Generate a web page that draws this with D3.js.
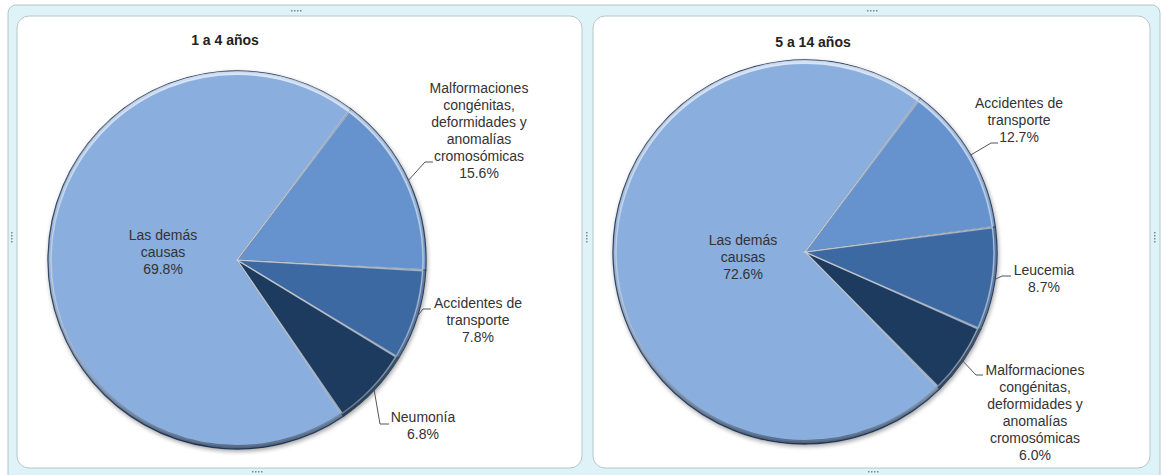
<!DOCTYPE html>
<html>
<head>
<meta charset="utf-8">
<script src="https://cdn.jsdelivr.net/npm/d3@7"></script>
<style>
  body { margin: 0; background: #fff; }
  svg { display: block; font-family: "Liberation Sans", Arial, sans-serif; }
</style>
</head>
<body>
<div id="chart"></div>
<script>
// Data (percent)
const titles = ["1 a 4 años", "5 a 14 años"];
const categories1 = ["Malformaciones congénitas, deformidades y anomalías cromosómicas", "Accidentes de transporte", "Neumonía", "Las demás causas"];
const values1 = [15.6, 7.8, 6.8, 69.8];
const categories2 = ["Accidentes de transporte", "Leucemia", "Malformaciones congénitas, deformidades y anomalías cromosómicas", "Las demás causas"];
const values2 = [12.7, 8.7, 6.0, 72.6];

// how each label wraps
const labelLines = {
    "Malformaciones congénitas, deformidades y anomalías cromosómicas": ["Malformaciones", "congénitas,", "deformidades y", "anomalías", "cromosómicas"],
    "Accidentes de transporte": ["Accidentes de", "transporte"],
    "Neumonía": ["Neumonía"],
    "Leucemia": ["Leucemia"],
    "Las demás causas": ["Las demás", "causas"]
};

// slice colours by position (lightest = the big "rest" slice)
const sliceColors = ["#6693ce", "#3d69a3", "#1f3a5e", "#8aaedd"];

// layout of the two panels (not data)
const panels = [
    { cats: categories1, vals: values1, title: titles[0],
      box: [17, 16, 565, 452], cx: 237, cy: 260, r: 189, start: 37, titleX: 225, titleY: 45,
      labels: [
        { x: 479, y: 93, elbow: [425, 162], end: [433, 162] },
        { x: 478, y: 308, elbow: [423, 309], end: [431, 309] },
        { x: 423, y: 422, elbow: [380, 424], end: [389, 424] },
        { x: 163, y: 240 }
      ] },
    { cats: categories2, vals: values2, title: titles[1],
      box: [593, 16, 557, 452], cx: 805, cy: 252, r: 192, start: 36.8, titleX: 813, titleY: 47,
      labels: [
        { x: 1019, y: 108, elbow: [991, 143], end: [998, 143] },
        { x: 1044, y: 275, elbow: [1002, 276], end: [1011, 276] },
        { x: 1035, y: 375, elbow: [976, 375], end: [983, 375] },
        { x: 743, y: 245 }
      ] }
];

const width = 1161, height = 475;
const svg = d3.select("#chart").append("svg")
    .attr("width", width)
    .attr("height", height);

const defs = svg.append("defs");
const shadow = defs.append("filter").attr("id", "shadow")
    .attr("x", "-10%").attr("y", "-10%").attr("width", "120%").attr("height", "120%");
shadow.append("feDropShadow")
    .attr("dx", 1).attr("dy", 2).attr("stdDeviation", 2)
    .attr("flood-color", "#000").attr("flood-opacity", 0.35);

const rim = defs.append("linearGradient").attr("id", "rim")
    .attr("x1", 0).attr("y1", 0).attr("x2", 0).attr("y2", 1);
rim.append("stop").attr("offset", "0%").attr("stop-color", "#eaf2ff").attr("stop-opacity", 0.7);
rim.append("stop").attr("offset", "45%").attr("stop-color", "#fff").attr("stop-opacity", 0.1);
rim.append("stop").attr("offset", "100%").attr("stop-color", "#0b1a30").attr("stop-opacity", 0.5);

// outer frame (light cyan band)
svg.append("rect")
    .attr("x", 8).attr("y", 5).attr("width", 1152).attr("height", 480)
    .attr("rx", 8)
    .attr("fill", "#def3f7")
    .attr("stroke", "#b5c4c8");

// small grip dots on the frame
function grip(x, y, vertical) {
    for (let i = 0; i < 4; i++) {
        svg.append("rect")
            .attr("x", vertical ? x : x + i * 3)
            .attr("y", vertical ? y + i * 3 : y)
            .attr("width", 1.5).attr("height", 1.5)
            .attr("fill", "#7d8a90");
    }
}
grip(291, 10, false); grip(867, 10, false);
grip(11, 232, true); grip(586, 232, true); grip(1154, 232, true);
grip(252, 471, false); grip(868, 471, false);

const pie = d3.pie().sort(null).value(d => d);

panels.forEach(p => {
    const [bx, by, bw, bh] = p.box;
    svg.append("rect")
        .attr("x", bx).attr("y", by).attr("width", bw).attr("height", bh)
        .attr("rx", 12)
        .attr("fill", "#fff")
        .attr("stroke", "#b8c6ca");

    svg.append("text")
        .attr("x", p.titleX).attr("y", p.titleY)
        .attr("text-anchor", "middle")
        .attr("font-size", 14)
        .attr("font-weight", "bold")
        .attr("fill", "#222")
        .text(p.title);

    const a0 = p.start * Math.PI / 180;
    pie.startAngle(a0).endAngle(a0 + 2 * Math.PI);
    const arcs = pie(p.vals);
    const arc = d3.arc().innerRadius(0).outerRadius(p.r);
    const inner = d3.arc().innerRadius(0).outerRadius(p.r - 3).padAngle(0.006);

    const g = svg.append("g").attr("transform", `translate(${p.cx},${p.cy})`);

    // slices
    g.append("g").attr("filter", "url(#shadow)")
        .selectAll("path")
        .data(arcs)
        .enter().append("path")
        .attr("d", arc)
        .attr("fill", (d, i) => sliceColors[i])
        .attr("stroke", "#2b3d5a")
        .attr("stroke-width", 1.3);

    // bevel highlight along the slice edges
    g.append("g")
        .selectAll("path")
        .data(arcs)
        .enter().append("path")
        .attr("d", inner)
        .attr("fill", "none")
        .attr("stroke", "#cdd6e0")
        .attr("stroke-opacity", 0.7)
        .attr("stroke-width", 1.3);

    // rim shading: light on top, dark at the bottom
    g.append("circle")
        .attr("r", p.r - 2)
        .attr("fill", "none")
        .attr("stroke", "url(#rim)")
        .attr("stroke-width", 4);

    // labels
    arcs.forEach((d, i) => {
        const lab = p.labels[i];
        const lines = labelLines[p.cats[i]].concat([d3.format(".1f")(p.vals[i]) + "%"]);
        if (lab.elbow) {
            const mid = (d.startAngle + d.endAngle) / 2;
            const sx = p.cx + Math.sin(mid) * p.r;
            const sy = p.cy - Math.cos(mid) * p.r;
            svg.append("path")
                .attr("d", `M${sx},${sy}L${lab.elbow[0]},${lab.elbow[1]}L${lab.end[0]},${lab.end[1]}`)
                .attr("fill", "none")
                .attr("stroke", "#555")
                .attr("stroke-width", 1);
        }
        const t = svg.append("text")
            .attr("text-anchor", "middle")
            .attr("font-size", 14)
            .attr("fill", "#333");
        lines.forEach((ln, k) => {
            t.append("tspan")
                .attr("x", lab.x)
                .attr("y", lab.y + k * 17)
                .text(ln);
        });
    });
});
</script>
</body>
</html>
